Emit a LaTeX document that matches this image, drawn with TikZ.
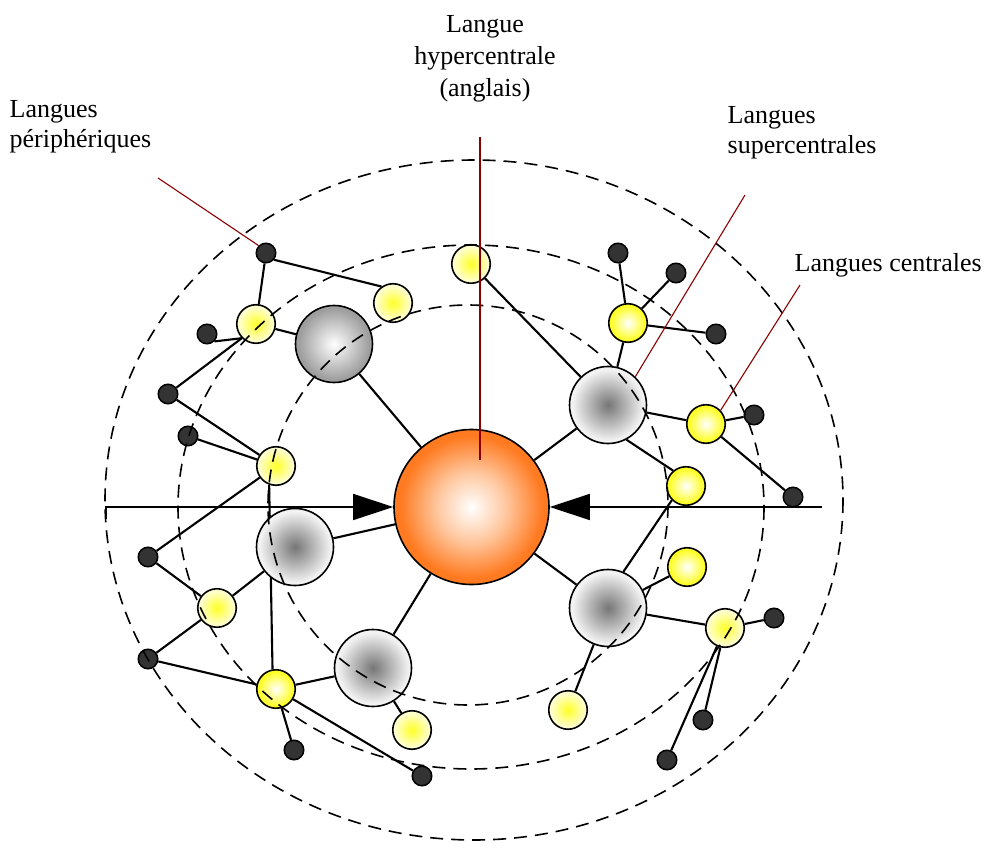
\documentclass[tikz,border=0pt]{standalone}
\usepackage{fontspec}
\setmainfont{Liberation Serif}
\usetikzlibrary{arrows.meta}
\definecolor{orgE}{RGB}{255,122,32}
\definecolor{orgM}{RGB}{255,200,160}
\definecolor{yelE}{RGB}{255,255,40}
\definecolor{yelP}{RGB}{255,255,205}
\definecolor{grD}{RGB}{118,118,118}
\definecolor{grL}{RGB}{242,242,242}
\definecolor{grM}{RGB}{158,158,158}
\definecolor{darkN}{RGB}{51,51,51}
\definecolor{lblred}{RGB}{140,0,0}
\pgfdeclareradialshading{orangeS}{\pgfpoint{0bp}{0bp}}{color(0bp)=(white); color(11bp)=(orgM); color(23bp)=(orgE); color(50bp)=(orgE)}
\pgfdeclareradialshading{yelA}{\pgfpoint{0bp}{0bp}}{color(0bp)=(white); color(22bp)=(yelE); color(50bp)=(yelE)}
\pgfdeclareradialshading{yelB}{\pgfpoint{0bp}{0bp}}{color(0bp)=(yelE); color(22bp)=(yelP); color(50bp)=(yelP)}
\pgfdeclareradialshading{grayA}{\pgfpoint{0bp}{0bp}}{color(0bp)=(white); color(23bp)=(grM); color(50bp)=(grM)}
\pgfdeclareradialshading{grayB}{\pgfpoint{0bp}{0bp}}{color(0bp)=(grD); color(23bp)=(grL); color(50bp)=(grL)}
\pgfdeclarelayer{bg}
\pgfsetlayers{bg,main}
\tikzset{
  core/.style={circle, draw, line width=1.6pt, inner sep=0pt, minimum size=155pt, shade, shading=orangeS},
  supA/.style={circle, draw, line width=1.6pt, inner sep=0pt, minimum size=77pt, shade, shading=grayA},
  supB/.style={circle, draw, line width=1.6pt, inner sep=0pt, minimum size=77pt, shade, shading=grayB},
  cenA/.style={circle, draw, line width=1.6pt, inner sep=0pt, minimum size=38.5pt, shade, shading=yelA},
  cenB/.style={circle, draw, line width=1.6pt, inner sep=0pt, minimum size=38.5pt, shade, shading=yelB},
  per/.style={circle, draw, line width=1.5pt, inner sep=0pt, minimum size=19.5pt, fill=darkN},
  lnk/.style={line width=2.1pt},
  ring/.style={line width=1.6pt, dash pattern=on 13pt off 8pt},
  redl/.style={line width=1.1pt, color=lblred},
  arr/.style={line width=1.6pt, -{Triangle[length=40pt,width=26pt]}},
  lbl/.style={inner sep=0pt, font=\fontsize{26}{31}\selectfont}
}
\begin{document}
\begin{tikzpicture}[x=1pt,y=-1pt]
\useasboundingbox (0,0) rectangle (988,850);
% hypercentral
\node[core] (O) at (471.5,507) {};
% supercentral
\node[supA] (G1) at (334,344) {};
\node[supB] (G2) at (608,405) {};
\node[supB] (G3) at (295,547) {};
\node[supB] (G4) at (373,668) {};
\node[supB] (G5) at (608,608) {};
% central
\node[cenB] (Y1) at (256,324) {};
\node[cenB] (Y2) at (393,303) {};
\node[cenB] (Y3) at (471,264) {};
\node[cenB] (Y4) at (276,466) {};
\node[cenA] (Y5) at (628,323) {};
\node[cenA] (Y6) at (706,424) {};
\node[cenA] (Y7) at (686,486) {};
\node[cenA] (Y8) at (687,567) {};
\node[cenB] (Y9) at (725,628) {};
\node[cenB] (Y10) at (568,710) {};
\node[cenB] (Y11) at (217,608) {};
\node[cenA] (Y12) at (276,689) {};
\node[cenB] (Y13) at (412,730) {};
% peripheral
\node[per] (D1) at (266,253) {};
\node[per] (D2) at (207,334) {};
\node[per] (D3) at (168,394) {};
\node[per] (D4) at (188,436) {};
\node[per] (D5) at (618,253) {};
\node[per] (D6) at (676,273) {};
\node[per] (D7) at (716,334) {};
\node[per] (D8) at (754,415) {};
\node[per] (D9) at (793,497) {};
\node[per] (D10) at (148,557) {};
\node[per] (D11) at (148,659) {};
\node[per] (D12) at (294,750) {};
\node[per] (D13) at (422,776) {};
\node[per] (D14) at (774,618) {};
\node[per] (D15) at (703,720) {};
\node[per] (D16) at (667,760) {};
% links
\begin{pgfonlayer}{bg}
\draw[lnk] (D1.-40) -- (Y2.125);
\draw[lnk] (D1) -- (Y1);
\draw[lnk] (Y1) -- (G1);
\draw[lnk] (D2.south east) -- (Y1.south west);
\draw[lnk] (D3) -- (Y1.south west);
\draw[lnk] (D3) -- (Y4);
\draw[lnk] (D4) -- (Y4);
\draw[lnk] (G1) -- (O);
\draw[lnk] (Y4.250) -- (Y12.100);
\draw[lnk] (Y4) -- (D10);
\draw[lnk] (D10) -- (Y11);
\draw[lnk] (Y11) -- (G3);
\draw[lnk] (Y11) -- (D11);
\draw[lnk] (D11) -- (Y12);
\draw[lnk] (Y12) -- (G4);
\draw[lnk] (Y12) -- (D12);
\draw[lnk] (Y12) -- (D13);
\draw[lnk] (G3) -- (O);
\draw[lnk] (G4) -- (O);
\draw[lnk] (G4) -- (Y13);
\draw[lnk] (Y3) -- (G2);
\draw[lnk] (D5) -- (Y5);
\draw[lnk] (D6) -- (Y5);
\draw[lnk] (Y5) -- (D7);
\draw[lnk] (Y5) -- (G2);
\draw[lnk] (G2) -- (O);
\draw[lnk] (G2) -- (Y6);
\draw[lnk] (Y6) -- (D8);
\draw[lnk] (Y6) -- (D9);
\draw[lnk] (G2.-62) -- (Y7.130);
\draw[lnk] (Y7.225) -- (G5.67);
\draw[lnk] (G5) -- (O);
\draw[lnk] (G5) -- (Y8);
\draw[lnk] (G5) -- (Y9);
\draw[lnk] (G5) -- (Y10);
\draw[lnk] (Y9) -- (D14);
\draw[lnk] (Y9) -- (D15);
\draw[lnk] (Y9) -- (D16);
\end{pgfonlayer}
% dashed rings
\draw[ring] (474,500) ellipse [x radius=369, y radius=340];
\draw[ring] (471,507) ellipse [x radius=293, y radius=262];
\draw[ring] (468,505) circle [radius=200];
% arrows
\coordinate (La) at (106,519);
\coordinate (Lb) at (106,507);
\coordinate (Ra) at (822,507);
\draw[arr] (La) -- (Lb) -- (O.west);
\draw[arr] (Ra) -- (O.east);
% label pointers
\coordinate (cH) at (480,137);
\coordinate (cH2) at (480,460);
\coordinate (cP) at (158,178);
\coordinate (cS) at (745,195);
\coordinate (cC) at (800,285);
\draw[redl] (cH) -- (cH2);
\draw[redl] (cP) -- (D1.135);
\draw[redl] (cS) -- (G2.46);
\draw[redl] (cC) -- (Y6.43);
% labels
\node[lbl, anchor=base] (t1) at (485,33) {Langue};
\node[lbl, anchor=base] (t2) at (485,65) {hypercentrale};
\node[lbl, anchor=base] (t3) at (485,97) {(anglais)};
\node[lbl, anchor=base west] (t4) at (9.5,118) {Langues};
\node[lbl, anchor=base west] (t5) at (9.5,148) {périphériques};
\node[lbl, anchor=base west] (t6) at (727.5,124) {Langues};
\node[lbl, anchor=base west] (t7) at (727.5,154) {supercentrales};
\node[lbl, anchor=base west] (t8) at (794.5,272) {Langues centrales};
\end{tikzpicture}
\end{document}
